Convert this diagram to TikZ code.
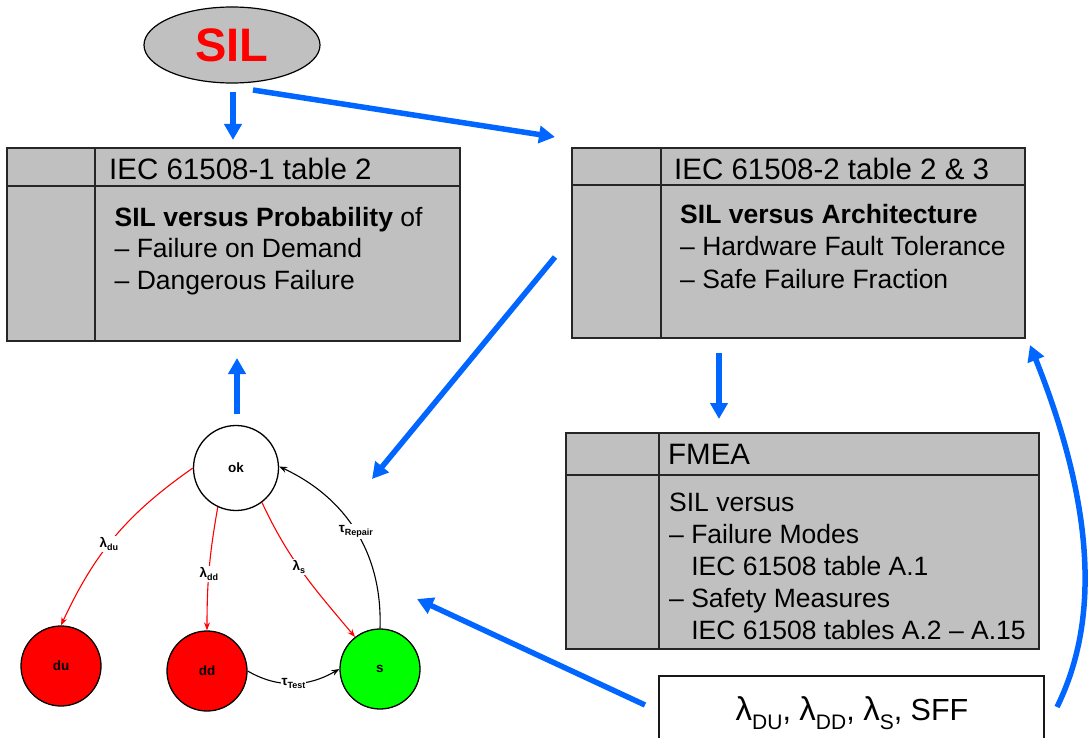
\documentclass[tikz,border=0pt]{standalone}
\usepackage{fontspec}
\setmainfont{Liberation Sans}
\usetikzlibrary{arrows.meta,shapes.geometric}
\definecolor{blu}{RGB}{0,102,255}
\definecolor{boxgray}{RGB}{192,192,192}
\definecolor{grn}{RGB}{0,255,0}
\newcommand\lsub[1]{\raisebox{-9.5pt}{\fontsize{21}{21}\selectfont #1}}
\newcommand\biglam{{\fontsize{33}{33}\selectfont λ}}
\newcommand\ssub[1]{\raisebox{-3.5pt}{\fontsize{9}{9}\selectfont\bfseries #1}}
\begin{document}
\begin{tikzpicture}[x=1pt,y=1pt,
 bluearrow/.style={draw=blu, line width=5.5pt, -{Triangle[length=16pt,width=17pt]}},
 graybox/.style={draw=black!85, line width=1.5pt, fill=boxgray, inner sep=0pt, outer sep=0pt},
 divider/.style={draw=black!85, line width=1.5pt},
 titletext/.style={anchor=base west, inner sep=0pt, font=\fontsize{29.5}{35}\selectfont},
 bodytext/.style={anchor=base west, inner sep=0pt, font=\fontsize{26.5}{32}\selectfont},
 state/.style={circle, draw=black, line width=1.3pt, minimum size=80pt, inner sep=0pt, font=\fontsize{13.5}{13.5}\selectfont\bfseries},
 redarr/.style={draw=red, line width=1.1pt, -{Stealth[length=8pt,width=6pt]}},
 blkarr/.style={draw=black, line width=1.1pt, -{Stealth[length=8pt,width=6pt]}},
 lbl/.style={fill=white, inner sep=1pt, font=\fontsize{13.5}{13.5}\selectfont\bfseries}
]
\clip (0,0) rectangle (1090,-738);
\fill[white] (0,0) rectangle (1090,-738);

% SIL ellipse
\node[ellipse, draw=black, line width=1.2pt, fill=boxgray, minimum width=176pt, minimum height=76pt, inner sep=0pt,
      text=red, font=\fontsize{47}{47}\selectfont\bfseries] (sil) at (232,-45) {SIL};

% Box 1
\node[graybox, minimum width=453pt, minimum height=193pt] (box1) at (233.5,-244.5) {};
\draw[divider] (95,-148) -- (95,-341);
\draw[divider] (7,-186) -- (460,-186);
\node[titletext] (t1) at (109,-180) {IEC 61508-1 table 2};
\node[bodytext] (b1a) at (114.5,-227) {\textbf{SIL versus Probability} of};
\node[bodytext] (b1b) at (114.5,-258) {– Failure on Demand};
\node[bodytext] (b1c) at (114.5,-290) {– Dangerous Failure};

% Box 2
\node[graybox, minimum width=453pt, minimum height=190pt] (box2) at (798.5,-243) {};
\draw[divider] (661,-148) -- (661,-338);
\draw[divider] (572,-185) -- (1025,-185);
\node[titletext] (t2) at (674,-180) {IEC 61508-2 table 2 \& 3};
\node[bodytext] (b2a) at (680,-224) {\textbf{SIL versus Architecture}};
\node[bodytext] (b2b) at (680,-256) {– Hardware Fault Tolerance};
\node[bodytext] (b2c) at (680,-288) {– Safe Failure Fraction};

% FMEA box
\node[graybox, minimum width=473pt, minimum height=216pt] (box3) at (802.5,-541) {};
\draw[divider] (659,-433) -- (659,-649);
\draw[divider] (566,-475) -- (1039,-475);
\node[titletext] (t3) at (668,-464) {FMEA};
\node[bodytext] (f1) at (669,-511) {SIL versus};
\node[bodytext] (f2) at (669,-543) {– Failure Modes};
\node[bodytext] (f3) at (669,-575) {\hphantom{– }IEC 61508 table A.1};
\node[bodytext] (f4) at (669,-607) {– Safety Measures};
\node[bodytext] (f5) at (669,-639) {\hphantom{– }IEC 61508 tables A.2 – A.15};

% Bottom box
\node[draw=black!90, line width=1.5pt, fill=white, minimum width=385pt, minimum height=104pt, inner sep=0pt] (box4) at (851.5,-728) {};
\node[anchor=base, inner sep=0pt, font=\fontsize{30.5}{36}\selectfont] (lam) at (852,-720)
  {\biglam\lsub{DU}, \biglam\lsub{DD}, \biglam\lsub{S}, SFF};

% Markov model
\node[state, minimum size=85pt, fill=white] (ok) at (236,-468) {ok};
\node[state, fill=red] (du) at (61,-666) {du};
\node[state, fill=red] (dd) at (207,-671) {dd};
\node[state, fill=grn] (s) at (380,-669) {s};

\draw[redarr] (ok.180) to[out=215,in=65] node[lbl, pos=0.55] {λ\ssub{du}} (du.90);
\draw[redarr] (ok.245) to[out=260,in=90] node[lbl, pos=0.55] {λ\ssub{dd}} (dd.90);
\draw[redarr] (ok.307) to[out=295,in=130] node[lbl, pos=0.45] {λ\ssub{s}} (s.128);
\draw[blkarr] (s.90) to[out=88,in=335] node[lbl, pos=0.5] {τ\ssub{Repair}} (ok.2);
\draw[blkarr] (dd.0) to[out=-30,in=210] node[lbl, pos=0.5] {τ\ssub{Test}} (s.180);

% Blue arrows
\coordinate (a1s) at (233,-92);  \coordinate (a1e) at (233,-140);
\coordinate (a2s) at (253,-90);  \coordinate (a2e) at (555,-137);
\coordinate (a3s) at (555,-257); \coordinate (a3e) at (372,-479);
\coordinate (a4s) at (237,-414); \coordinate (a4e) at (237,-358);
\coordinate (a5s) at (719,-353); \coordinate (a5e) at (719,-419);
\coordinate (a6s) at (645,-705); \coordinate (a6e) at (417,-599);
\coordinate (a7s) at (1057,-707); \coordinate (a7e) at (1030,-345);
\draw[bluearrow] (a1s) -- (a1e);
\draw[bluearrow] (a2s) -- (a2e);
\draw[bluearrow] (a3s) -- (a3e);
\draw[bluearrow] (a4s) -- (a4e);
\draw[bluearrow] (a5s) -- (a5e);
\draw[bluearrow] (a6s) -- (a6e);
\draw[bluearrow] (a7s) .. controls (1090,-640) and (1106,-535) .. (a7e);
\end{tikzpicture}
\end{document}
